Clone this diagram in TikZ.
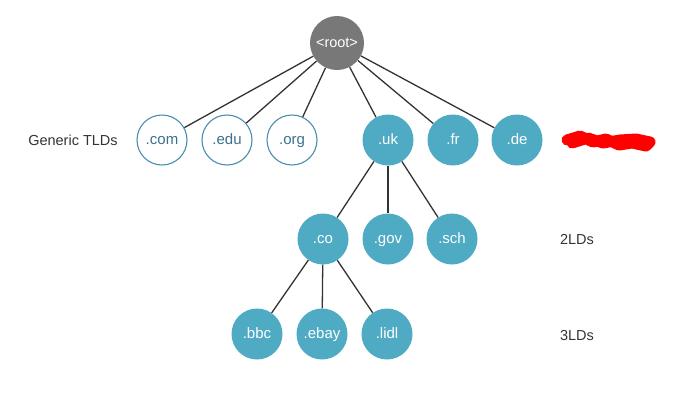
\documentclass[tikz,border=0pt]{standalone}
\usepackage{fontspec}
\setmainfont{Liberation Sans}
\definecolor{domfill}{HTML}{4FAAC4}
\definecolor{domline}{HTML}{4A8DB0}
\definecolor{rootfill}{HTML}{787878}
\definecolor{labeltext}{HTML}{333333}
\begin{document}
\begin{tikzpicture}[x=1pt,y=-1pt,
  dom/.style={circle,minimum size=51pt,inner sep=0pt,text height=9pt,text depth=1pt,fill=domfill,text=white,font=\fontsize{15}{17}\selectfont},
  generic/.style={circle,minimum size=50pt,inner sep=0pt,text height=9pt,text depth=1pt,draw=domline,line width=1.1pt,fill=white,text=domline!80!black,font=\fontsize{15}{17}\selectfont},
  level/.style={text=labeltext,font=\fontsize{14.5}{16}\selectfont},
  edge/.style={draw=labeltext,line width=1.3pt}]
\useasboundingbox (0,0) rectangle (685,400);
\node[circle,minimum size=54pt,inner sep=0pt,fill=rootfill,text=white,font=\fontsize{14.5}{16}\selectfont] (root) at (337,43) {<root>};
\node[generic] (com) at (162,140) {.com};
\node[generic] (edu) at (227,140) {.edu};
\node[generic] (org) at (292,140) {.org};
\node[dom] (uk) at (388,140) {.uk};
\node[dom] (fr) at (453,140) {.fr};
\node[dom] (de) at (517,140) {.de};
\node[dom] (co) at (323,239) {.co};
\node[dom] (gov) at (388,239) {.gov};
\node[dom] (sch) at (452,239) {.sch};
\node[dom] (bbc) at (257,334) {.bbc};
\node[dom] (ebay) at (322,334) {.ebay};
\node[dom] (lidl) at (387,334) {.lidl};
\node[level] (generictld) at (73,140) {Generic TLDs};
\node[level] (twold) at (577,240) {2LDs};
\node[level] (threeld) at (577,335) {3LDs};
\draw[edge] (root)--(com);
\draw[edge] (root)--(edu);
\draw[edge] (root)--(org);
\draw[edge] (root)--(uk);
\draw[edge] (root)--(fr);
\draw[edge] (root)--(de);
\draw[edge] (uk)--(co);
\draw[edge] (uk)--(gov);
\draw[edge] (uk)--(sch);
\draw[edge] (co)--(bbc);
\draw[edge] (co)--(ebay);
\draw[edge] (co)--(lidl);
% red scribble
\draw[red,line width=11pt,line cap=round,line join=round]
  (567,140)--(580,136)--(593,142)--(606,139)--(619,145)--(632,143)--(646,146)--(650,142)--(636,139)--(620,140)--(603,143)--(588,138)--(572,143);
\end{tikzpicture}
\end{document}
